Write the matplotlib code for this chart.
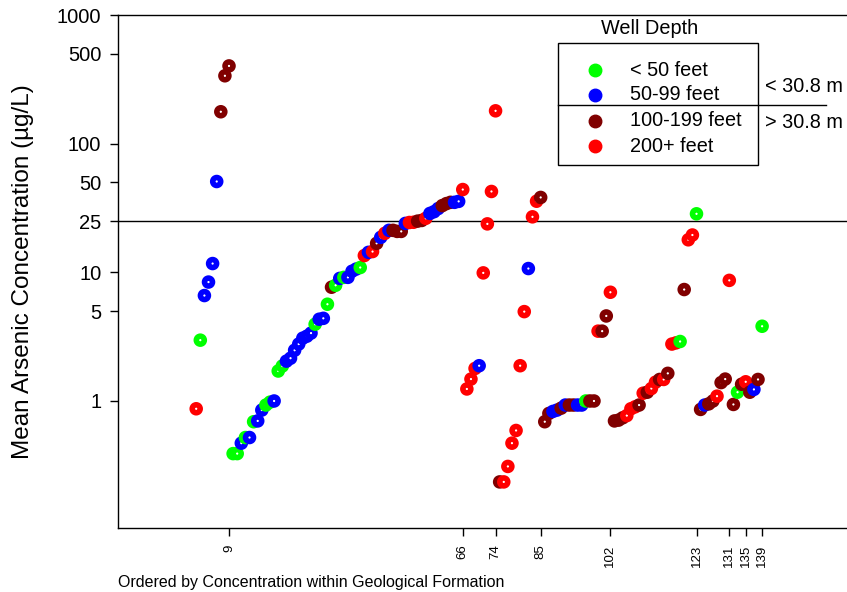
import numpy as np
import matplotlib
matplotlib.use("Agg")
import matplotlib.pyplot as plt
from matplotlib.patches import Rectangle
from matplotlib.lines import Line2D

plt.rcParams['font.family'] = ['Liberation Sans', 'DejaVu Sans']

# Depth classes and colours
depth_labels = ["< 50 feet", "50-99 feet", "100-199 feet", "200+ feet"]
depth_colors = {"G": "#00ff00", "B": "#0000ff", "M": "#800000", "R": "#ff0000"}
depth_order = ["G", "B", "M", "R"]

# Wells ordered by concentration within geological formation (index 1..139)
depth_code = list(
    "RGBBBBMMM"
    "GGBGBGBBGGB"
    "GGBBBBBBBGBBGMGBGBBBG"
    "RBRMBRBMMMBRRMMRBBBMMMBBR"
    "RRRBRRRRMRRRRRRBRRM"
    "MMBBMBMMBBGMMRMMR"
    "MMMRRRMRMRRMRMRRGMRRG"
    "MBMMRMMRMGMRMBMG"
)
concentration = [
    0.87, 2.97, 6.6, 8.4, 11.7, 50.8, 177, 337, 402,
    0.39, 0.39, 0.47, 0.52, 0.52, 0.69, 0.70, 0.85, 0.93, 0.98, 1.0,
    1.71, 1.87, 2.04, 2.15, 2.48, 2.77, 3.08, 3.19, 3.37, 3.95, 4.32, 4.39,
    5.65, 7.66, 7.93, 8.97, 9.14, 9.14, 10.2, 10.6, 10.9,
    13.5, 14.3, 14.5, 16.8, 18.7, 20.1, 21.2, 21.2, 20.8, 20.8, 24.0, 24.4,
    24.5, 25.0, 25.3, 26.3, 28.7, 29.6, 31.3, 33.0, 34.2, 35.0, 35.0, 35.6, 44.0,
    1.24, 1.48, 1.79, 1.88, 9.9, 23.8, 42.5, 180, 0.235, 0.235, 0.31, 0.47,
    0.59, 1.88, 4.95, 10.7, 27.0, 35.7, 38.2,
    0.69, 0.80, 0.83, 0.85, 0.88, 0.93, 0.93, 0.93, 0.93, 0.93, 1.0, 1.0, 1.0,
    3.49, 3.49, 4.58, 7.0,
    0.70, 0.71, 0.74, 0.77, 0.87, 0.90, 0.93, 1.15, 1.17, 1.25, 1.40, 1.47,
    1.47, 1.64, 2.77, 2.83, 2.90, 7.35, 17.9, 19.5, 28.5,
    0.86, 0.93, 0.95, 1.0, 1.09, 1.39, 1.48, 8.66, 0.94, 1.17, 1.35, 1.41,
    1.17, 1.23, 1.47, 3.81,
]
formation_ticks = [9, 66, 74, 85, 102, 123, 131, 135, 139]
y_ticks = [1, 5, 10, 25, 50, 100, 500, 1000]
threshold = 25

well_index = np.arange(1, len(concentration) + 1)
point_colors = [depth_colors[c] for c in depth_code]

fig = plt.figure(figsize=(8.47, 5.92), dpi=100)
ax = fig.add_axes([118 / 847, 1 - 528 / 592, 729 / 847, 513 / 592])

ax.scatter(well_index, concentration, s=33, facecolors="white",
           edgecolors=point_colors, linewidths=4.0, zorder=3)

ax.axhline(threshold, color="black", lw=1.0, zorder=2)

ax.set_yscale("log")
ax.set_ylim(0.103, 1000)
ax.set_xlim(-18.07, 159.7)
ax.set_yticks(y_ticks)
ax.set_yticklabels([str(v) for v in y_ticks], fontsize=14.5)
ax.yaxis.set_minor_locator(matplotlib.ticker.NullLocator())
ax.set_xticks(formation_ticks)
ax.set_xticklabels([str(v) for v in formation_ticks], rotation=90, fontsize=9.5)
ax.xaxis.set_minor_locator(matplotlib.ticker.NullLocator())
ax.tick_params(axis="both", direction="out", length=6, width=1, color="black")
ax.tick_params(axis="y", pad=6)
ax.tick_params(axis="x", pad=6)
ax.spines["right"].set_visible(False)
for s in ["left", "bottom", "top"]:
    ax.spines[s].set_linewidth(1.0)

ax.set_ylabel("Mean Arsenic Concentration (\u00b5g/L)", fontsize=17.5)
ax.yaxis.set_label_coords((34 - 118) / 729, (528 - 272) / 513)
fig.text(118 / 847, 1 - 582 / 592, "Ordered by Concentration within Geological Formation",
         fontsize=11.5, ha="left", va="center")

# Legend (drawn manually in axes coordinates)
def axx(px):
    return (px - 118) / 729

def axy(py):
    return (528 - py) / 513

ax.add_patch(Rectangle((axx(558), axy(165)), axx(758) - axx(558), axy(43) - axy(165),
                       transform=ax.transAxes, facecolor="white", edgecolor="black",
                       lw=1.0, zorder=4))
ax.add_line(Line2D([axx(558), axx(826)], [axy(105), axy(105)], transform=ax.transAxes,
                   color="black", lw=1.0, zorder=5, clip_on=False))
ax.text(axx(650), axy(28), "Well Depth", transform=ax.transAxes, fontsize=14.3,
        ha="center", va="center")
rows_y = [70, 95, 121, 146]
for code, label, ry in zip(depth_order, depth_labels, rows_y):
    ax.plot([axx(595)], [axy(ry)], marker="o", ms=9, color=depth_colors[code],
            transform=ax.transAxes, zorder=6, clip_on=False, ls="none")
    ax.text(axx(630), axy(ry), label, transform=ax.transAxes, fontsize=14.3,
            ha="left", va="center", zorder=6)
ax.text(axx(765), axy(86), "< 30.8 m", transform=ax.transAxes, fontsize=14.3,
        ha="left", va="center")
ax.text(axx(765), axy(122), "> 30.8 m", transform=ax.transAxes, fontsize=14.3,
        ha="left", va="center")

fig.savefig("out.png", dpi=100)
